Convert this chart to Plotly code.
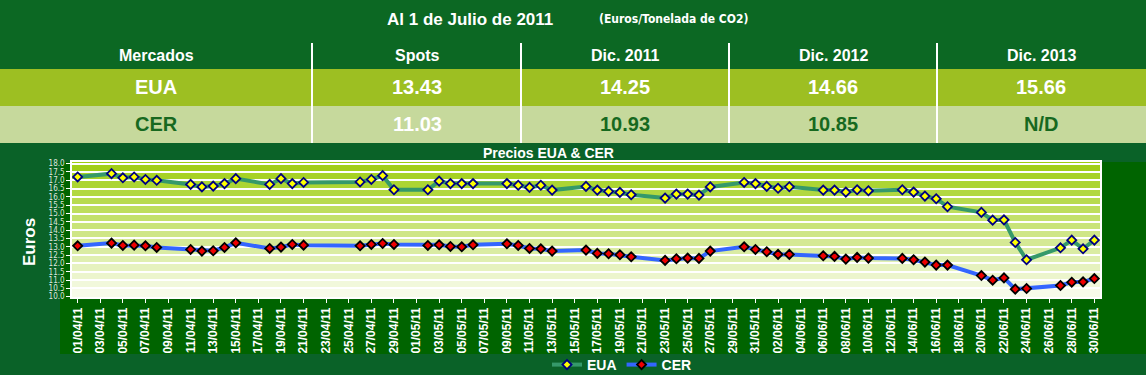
import plotly.graph_objects as go

# ---------------- data ----------------
apr_days = [1, 4, 5, 6, 7, 8, 11, 12, 13, 14, 15, 18, 19, 20, 21, 26, 27, 28, 29]
may_days = [2, 3, 4, 5, 6, 9, 10, 11, 12, 13, 16, 17, 18, 19, 20, 23, 24, 25, 26, 27, 30, 31]
jun_days = [1, 2, 3, 6, 7, 8, 9, 10, 13, 14, 15, 16, 17, 20, 21, 22, 23, 24, 27, 28, 29, 30]

eua_apr = [17.20, 17.40, 17.15, 17.20, 17.05, 17.00, 16.75, 16.60, 16.65, 16.80, 17.10,
           16.75, 17.10, 16.80, 16.87, 16.90, 17.05, 17.28, 16.43]
eua_may = [16.43, 16.95, 16.80, 16.80, 16.80, 16.80, 16.70, 16.57, 16.70, 16.41, 16.63,
           16.41, 16.33, 16.27, 16.13, 15.93, 16.17, 16.17, 16.11, 16.60, 16.87, 16.80]
eua_jun = [16.63, 16.52, 16.61, 16.41, 16.41, 16.29, 16.43, 16.37, 16.43, 16.29, 16.05,
           15.89, 15.41, 15.07, 14.60, 14.62, 13.26, 12.22, 12.94, 13.40, 12.88, 13.40]

cer_apr = [13.06, 13.22, 13.08, 13.10, 13.06, 12.96, 12.84, 12.74, 12.76, 12.96, 13.24,
           12.90, 12.98, 13.14, 13.10, 13.06, 13.14, 13.20, 13.14]
cer_may = [13.08, 13.12, 13.02, 13.00, 13.12, 13.18, 13.08, 12.90, 12.88, 12.74, 12.80,
           12.60, 12.58, 12.52, 12.40, 12.18, 12.28, 12.32, 12.30, 12.74, 13.00, 12.84]
cer_jun = [12.70, 12.54, 12.54, 12.46, 12.42, 12.26, 12.36, 12.32, 12.30, 12.22, 12.08,
           11.90, 11.90, 11.27, 10.99, 11.13, 10.45, 10.49, 10.67, 10.87, 10.89, 11.09]

table_title = "Al 1 de Julio de 2011"
table_unit = "(Euros/Tonelada de CO2)"
table_columns = ["Mercados", "Spots", "Dic. 2011", "Dic. 2012", "Dic. 2013"]
eua_row = ["EUA", "13.43", "14.25", "14.66", "15.66"]
cer_row = ["CER", "11.03", "10.93", "10.85", "N/D"]
chart_title = "Precios EUA & CER"
y_title = "Euros"

dates = ([f"2011-04-{d:02d}" for d in apr_days] +
         [f"2011-05-{d:02d}" for d in may_days] +
         [f"2011-06-{d:02d}" for d in jun_days])
eua = eua_apr + eua_may + eua_jun
cer = cer_apr + cer_may + cer_jun

# ---------------- layout helpers ----------------
W, H = 1146, 375
L, R, T, B = 72, 1100, 162, 297


def px(x):
    return (x - L) / (R - L)


def py(y):
    return (B - y) / (B - T)


NARROW = "Liberation Sans Narrow, DejaVu Sans Condensed, Liberation Sans, Arial, sans-serif"
ARIAL = "Liberation Sans, Arial, sans-serif"

fig = go.Figure()

fig.add_trace(go.Scatter(
    x=dates, y=eua, name="EUA", mode="lines+markers",
    line=dict(color="#35996A", width=4),
    marker=dict(symbol="diamond", size=7, color="#FFFF00",
                line=dict(color="#000080", width=1.8)),
))
fig.add_trace(go.Scatter(
    x=dates, y=cer, name="CER", mode="lines+markers",
    line=dict(color="#3366FF", width=4),
    marker=dict(symbol="diamond", size=7, color="#EE0000",
                line=dict(color="#000000", width=1.8)),
))

shapes = []
# header and table background
shapes.append(dict(type="rect", xref="paper", yref="paper", x0=px(0), x1=px(W),
                   y0=py(0), y1=py(69), fillcolor="#0C6823", line_width=0, layer="below"))
shapes.append(dict(type="rect", xref="paper", yref="paper", x0=px(0), x1=px(W),
                   y0=py(69), y1=py(106), fillcolor="#9DBF22", line_width=0, layer="below"))
shapes.append(dict(type="rect", xref="paper", yref="paper", x0=px(0), x1=px(W),
                   y0=py(106), y1=py(143), fillcolor="#C6D99C", line_width=0, layer="below"))
for sx in [312, 521, 729, 937]:
    shapes.append(dict(type="line", xref="paper", yref="paper", x0=px(sx), x1=px(sx),
                       y0=py(43), y1=py(143), line=dict(color="white", width=2), layer="below"))
# chart panel
shapes.append(dict(type="rect", xref="paper", yref="paper", x0=px(60), x1=px(W),
                   y0=py(162), y1=py(354), fillcolor="#006400", line_width=0, layer="below"))
# gradient plot background bands
top_c = (158, 206, 16)
bot_c = (250, 252, 240)
n_bands = 17
for i in range(n_bands):
    y0 = 10 + 0.5 * i - (0.05 if i == 0 else 0)
    y1 = 10 + 0.5 * (i + 1) if i < n_bands - 1 else 18.2
    f = min((i + 0.5) / (n_bands - 1), 1.0)
    c = tuple(int(round(bot_c[k] + (top_c[k] - bot_c[k]) * f)) for k in range(3))
    shapes.append(dict(type="rect", xref="paper", yref="y", x0=0, x1=1, y0=y0, y1=y1,
                       fillcolor=f"rgb{c}", line_width=0, layer="below"))


def note(x, y, text, size, color="white", family=ARIAL, xanchor="center", angle=0):
    return dict(x=px(x), y=py(y), xref="paper", yref="paper", text=text,
                xanchor=xanchor, yanchor="middle", showarrow=False, textangle=angle,
                font=dict(family=family, size=size, color=color, weight="bold"))


annotations = [
    note(470, 19, table_title, 17),
    note(597, 19, table_unit, 12, family=NARROW, xanchor="left"),
]
col_centers = [156, 417, 625, 833, 1041]
for cx, txt in zip(col_centers, table_columns):
    annotations.append(note(cx, 55, txt, 16))
for cx, txt in zip(col_centers, eua_row):
    annotations.append(note(cx, 87, txt, 20))
for i, (cx, txt) in enumerate(zip(col_centers, cer_row)):
    annotations.append(note(cx, 124, txt, 20, color="white" if i == 1 else "#17691F"))
annotations.append(note(548, 153, chart_title, 14))
annotations.append(note(29, 242, y_title, 17, angle=-90))

fig.update_layout(
    width=W, height=H,
    margin=dict(l=L, r=W - R, t=T, b=H - B, pad=0, autoexpand=False),
    paper_bgcolor="#0A6228",
    plot_bgcolor="rgba(0,0,0,0)",
    shapes=shapes,
    annotations=annotations,
    showlegend=True,
    legend=dict(orientation="h", xref="container", yref="container",
                x=622 / W, xanchor="center", y=1 - 365 / H, yanchor="middle",
                bgcolor="rgba(0,0,0,0)",
                font=dict(family=ARIAL, size=14, color="white", weight="bold"),
                itemwidth=30),
    xaxis=dict(
        type="date",
        range=["2011-03-31 12:00", "2011-06-30 12:00"],
        tick0="2011-04-01", dtick=2 * 86400000,
        tickformat="%d/%m/%y", tickangle=-90,
        tickfont=dict(family=ARIAL, size=12, color="white", weight="bold"),
        ticks="outside", ticklen=4, tickcolor="white", tickwidth=1,
        showgrid=False, showline=True, linecolor="white", linewidth=1.5, mirror=True,
        zeroline=False, fixedrange=True, automargin=False,
    ),
    yaxis=dict(
        range=[9.98, 18.1], tick0=10, dtick=0.5, tickformat=".1f",
        tickfont=dict(family=NARROW, size=8, color="#DDE5DD"),
        ticks="outside", ticklen=4, tickcolor="white", tickwidth=1,
        showgrid=True, gridcolor="white", gridwidth=2,
        showline=True, linecolor="white", linewidth=1.5, mirror=True,
        zeroline=False, fixedrange=True, automargin=False,
    ),
)

fig.write_html("out.html", config={"displayModeBar": False},
               post_script="document.body.style.margin='0';document.body.style.overflow='hidden';")
